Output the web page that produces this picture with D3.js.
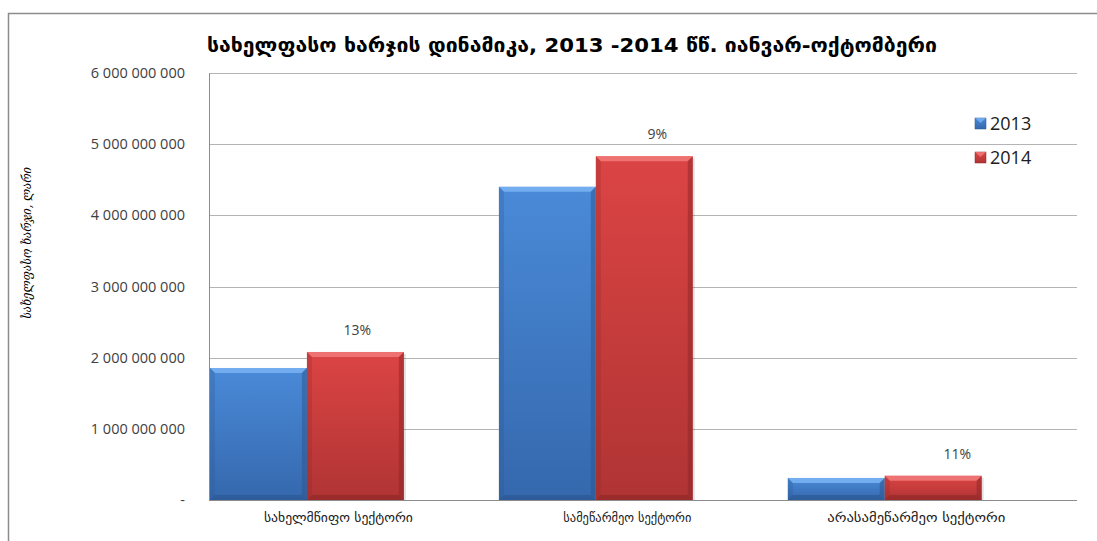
<!DOCTYPE html>
<html>
<head>
<meta charset="utf-8">
<script src="https://d3js.org/d3.v7.min.js"></script>
<style>
  body { margin: 0; background: #fff; }
  svg { display: block; }
</style>
</head>
<body>
<div id="chart"></div>
<script>
// chart data
var categories = ["სახელმწიფო სექტორი", "სამეწარმეო სექტორი", "არასამეწარმეო სექტორი"];
var years = ["2013", "2014"];
var values2013 = [1855000000, 4400000000, 310000000];
var values2014 = [2080000000, 4830000000, 340000000];
var growth = ["13%", "9%", "11%"];
var yTicks = [0, 1000000000, 2000000000, 3000000000, 4000000000, 5000000000, 6000000000];
var titleText = "სახელფასო ხარჯის დინამიკა, 2013 -2014 წწ.  იანვარ-ოქტომბერი";
var yTitle = "სახელფასო ხარჯი, ლარი";

var width = 1097, height = 541;
var margin = {top: 73, right: 20, bottom: 41, left: 209};

var svg = d3.select("#chart").append("svg")
  .attr("width", width)
  .attr("height", height);

var defs = svg.append("defs");
var colors = {
  "2013": {top: "#4a8ad8", bottom: "#3568ad", light: "#7ab4f5", dark: "#2a558d"},
  "2014": {top: "#dc4444", bottom: "#b03434", light: "#f27a7a", dark: "#8c2626"}
};
years.forEach(function (yr) {
  var g = defs.append("linearGradient").attr("id", "grad" + yr)
    .attr("x1", 0).attr("y1", 0).attr("x2", 0).attr("y2", 1);
  g.append("stop").attr("offset", "0%").attr("stop-color", colors[yr].top);
  g.append("stop").attr("offset", "100%").attr("stop-color", colors[yr].bottom);
});

// outer frame
svg.append("path")
  .attr("d", "M8.5," + height + "V13.5H" + width)
  .attr("fill", "none")
  .attr("stroke", "#8c8c8c")
  .attr("stroke-width", 1.5);

var y = d3.scaleLinear()
  .domain([0, 6000000000])
  .range([height - margin.bottom, margin.top]);

var x0 = d3.scaleBand()
  .domain(categories)
  .range([margin.left + 1, width - margin.right])
  .paddingInner(0.329)
  .paddingOuter(0.165)
  .align(0);

var x1 = d3.scaleBand()
  .domain(years)
  .range([0, x0.bandwidth()]);

// gridlines
svg.append("g")
  .selectAll("line")
  .data(yTicks.slice(1))
  .join("line")
  .attr("x1", margin.left)
  .attr("x2", width - margin.right)
  .attr("y1", function (d) { return Math.round(y(d)) + 0.5; })
  .attr("y2", function (d) { return Math.round(y(d)) + 0.5; })
  .attr("stroke", "#b4b4b4");

// y axis
var fmt = function (d) {
  return d === 0 ? "-" : d3.format(",")(d).replace(/,/g, " ");
};
var yAxis = svg.append("g")
  .attr("transform", "translate(" + margin.left + ",0)")
  .call(d3.axisLeft(y).tickValues(yTicks).tickFormat(fmt).tickSize(0).tickPadding(24));
yAxis.select(".domain").attr("stroke", "#8c8c8c");
yAxis.selectAll("text")
  .attr("font-family", "'Open Sans', 'DejaVu Sans', sans-serif")
  .attr("font-size", 14.5)
  .attr("fill", "#404040");

// baseline
svg.append("line")
  .attr("x1", margin.left).attr("x2", width - margin.right)
  .attr("y1", y(0) + 0.5).attr("y2", y(0) + 0.5)
  .attr("stroke", "#8c8c8c");

// bars with bevel
var rows = categories.map(function (c, i) {
  return {cat: c, vals: [{yr: "2013", v: values2013[i]}, {yr: "2014", v: values2014[i]}]};
});

var groups = svg.append("g").selectAll("g")
  .data(rows)
  .join("g")
  .attr("transform", function (d) { return "translate(" + x0(d.cat) + ",0)"; });

var bars = groups.selectAll("g.bar")
  .data(function (d) { return d.vals; })
  .join("g")
  .attr("class", "bar");

bars.each(function (d) {
  var g = d3.select(this);
  var bx = x1(d.yr), bw = x1.bandwidth();
  var by = y(d.v), bh = y(0) - y(d.v);
  var b = Math.min(5, bh / 3);
  var c = colors[d.yr];
  // shadow
  g.append("rect").attr("x", bx + 2).attr("y", by + 2).attr("width", bw).attr("height", bh - 2)
    .attr("fill", "#000").attr("opacity", 0.12);
  g.append("rect").attr("x", bx).attr("y", by).attr("width", bw).attr("height", bh)
    .attr("fill", "url(#grad" + d.yr + ")");
  // top bevel
  g.append("path")
    .attr("d", "M" + bx + "," + by + "H" + (bx + bw) + "L" + (bx + bw - b) + "," + (by + b) + "H" + (bx + b) + "Z")
    .attr("fill", c.light).attr("opacity", 0.85);
  // right bevel
  g.append("path")
    .attr("d", "M" + (bx + bw) + "," + by + "V" + (by + bh) + "L" + (bx + bw - b) + "," + (by + bh - b) + "V" + (by + b) + "Z")
    .attr("fill", c.dark).attr("opacity", 0.5);
  // bottom bevel
  g.append("path")
    .attr("d", "M" + bx + "," + (by + bh) + "H" + (bx + bw) + "L" + (bx + bw - b) + "," + (by + bh - b) + "H" + (bx + b) + "Z")
    .attr("fill", c.dark).attr("opacity", 0.6);
  // left bevel
  g.append("path")
    .attr("d", "M" + bx + "," + by + "V" + (by + bh) + "L" + (bx + b) + "," + (by + bh - b) + "V" + (by + b) + "Z")
    .attr("fill", c.dark).attr("opacity", 0.25);
});

// growth labels (text boxes sit a little right of the 2014 bar)
groups.append("text")
  .attr("x", function (d, i) { return x1("2014") + x1.bandwidth() / 2 + 2 + i * 11; })
  .attr("y", function (d, i) { return y(values2014[i]) - 17; })
  .attr("text-anchor", "middle")
  .attr("font-family", "'Open Sans', 'DejaVu Sans', sans-serif")
  .attr("font-size", 14)
  .attr("fill", "#404040")
  .text(function (d, i) { return growth[i]; });

// category labels
var catWidths = [149, 128, 178];
svg.append("g").selectAll("text")
  .data(categories)
  .join("text")
  .attr("x", function (d) { return x0(d) + x0.step() / 2 - 16; })
  .attr("y", 522)
  .attr("text-anchor", "middle")
  .attr("font-family", "'DejaVu Sans', sans-serif")
  .attr("font-size", 12)
  .attr("fill", "#202020")
  .attr("textLength", function (d, i) { return catWidths[i]; })
  .attr("lengthAdjust", "spacingAndGlyphs")
  .text(function (d) { return d; });

// title
svg.append("text")
  .attr("x", 207)
  .attr("y", 52)
  .attr("font-family", "'DejaVu Sans', sans-serif")
  .attr("font-weight", "bold")
  .attr("font-size", 19)
  .attr("fill", "#000")
  .attr("textLength", 730)
  .attr("lengthAdjust", "spacingAndGlyphs")
  .text(titleText);

// y axis title
svg.append("text")
  .attr("transform", "translate(31,243) rotate(-90)")
  .attr("text-anchor", "middle")
  .attr("font-family", "'DejaVu Serif', serif")
  .attr("font-style", "italic")
  .attr("font-size", 12.5)
  .attr("fill", "#000")
  .attr("textLength", 152)
  .attr("lengthAdjust", "spacingAndGlyphs")
  .text(yTitle);

// legend
var legend = svg.append("g").attr("transform", "translate(975,118)");
var li = legend.selectAll("g")
  .data(years)
  .join("g")
  .attr("transform", function (d, i) { return "translate(0," + (i * 34) + ")"; });
li.append("rect")
  .attr("width", 11).attr("height", 11)
  .attr("fill", function (d) { return "url(#grad" + d + ")"; })
  .attr("stroke", function (d) { return colors[d].dark; })
  .attr("stroke-width", 0.5);
li.append("path")
  .attr("d", "M0,0H11L5.5,5Z")
  .attr("fill", function (d) { return colors[d].light; })
  .attr("opacity", 0.8);
li.append("text")
  .attr("x", 15)
  .attr("y", 12)
  .attr("font-family", "'Open Sans', 'DejaVu Sans', sans-serif")
  .attr("font-size", 18)
  .attr("fill", "#202020")
  .text(function (d) { return d; });
</script>
</body>
</html>
